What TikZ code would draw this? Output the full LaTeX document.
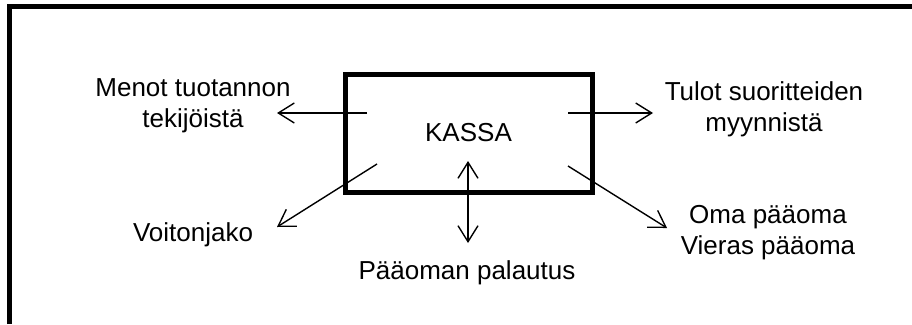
\documentclass[tikz,border=0pt]{standalone}
\usepackage{fontspec}
\setmainfont{Liberation Sans}
\usetikzlibrary{arrows.meta}
\newcommand{\nuolipaa}{{Straight Barb[length=16pt,width=20pt]}}

\tikzset{
  teksti/.style={inner sep=0pt, align=center, font=\fontsize{26}{31}\selectfont},
  nuoli/.style={line width=1.4pt, -\nuolipaa},
  kaksinuoli/.style={line width=1.4pt, \nuolipaa-\nuolipaa},
}

\begin{document}
\begin{tikzpicture}[x=1pt,y=-1pt]
        \useasboundingbox (0,0) rectangle (912,324);

        % kehys, oikea ja alareuna jaavat kuvan ulkopuolelle
        \draw[line width=5pt] (9.5,324) -- (9.5,6.5) -- (912,6.5);

        \node (kassa) at (468.5,133) [draw, line width=5pt, minimum width=247pt, minimum height=118pt, teksti] {KASSA};

        \node (menot) at (193,106) [teksti] {Menot tuotannon\\tekijöistä};
        \node (tulot) at (764,109) [teksti] {Tulot suoritteiden\\myynnistä};
        \node (voitto) at (193,235) [teksti] {Voitonjako};
        \node (palautus) at (467,273) [teksti] {Pääoman palautus};
        \node (paaoma) at (768,233) [teksti] {Oma pääoma\\Vieras pääoma};

        \coordinate (m1) at (367,113);
        \coordinate (m2) at (277,113);
        \coordinate (t1) at (568,113);
        \coordinate (t2) at (653,113);
        \coordinate (v1) at (377,164);
        \coordinate (v2) at (277,227);
        \coordinate (p1) at (468,161);
        \coordinate (p2) at (468,243);
        \coordinate (o1) at (568,166);
        \coordinate (o2) at (667,228);

        \draw[nuoli] (m1) -- (m2);
        \draw[nuoli] (t1) -- (t2);
        \draw[nuoli] (v1) -- (v2);
        \draw[kaksinuoli] (p1) -- (p2);
        \draw[nuoli] (o1) -- (o2);
\end{tikzpicture}
\end{document}
